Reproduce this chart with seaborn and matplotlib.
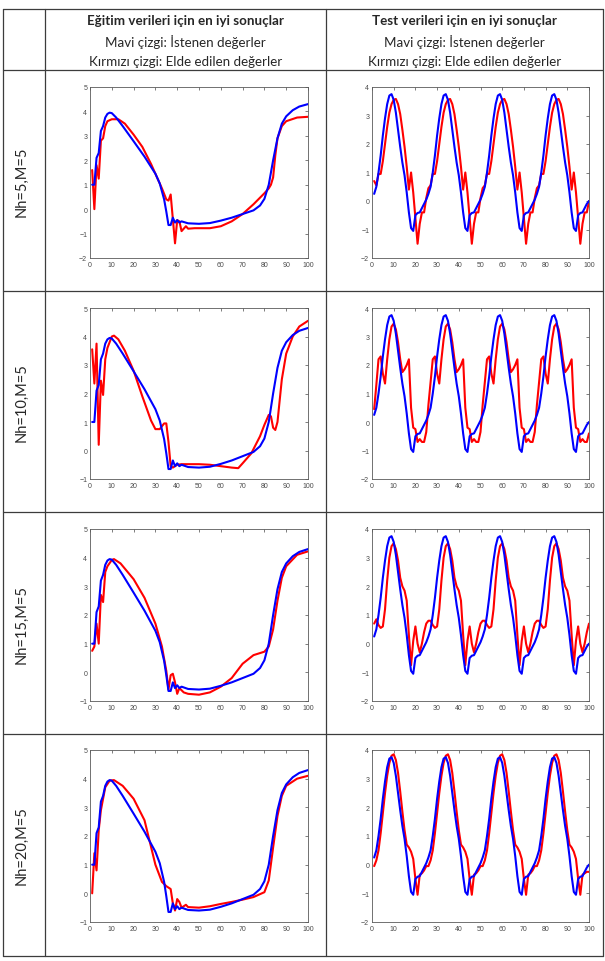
import matplotlib
matplotlib.use("Agg")
import matplotlib.pyplot as plt
from matplotlib.lines import Line2D
import numpy as np
import seaborn as sns

W, H = 605, 962

# ---- training data (left column), read at knots ----
train_blue_x = [1, 2, 3, 4, 5, 6, 7, 8, 9, 10, 12, 15, 20, 25, 30, 32, 34, 35, 36, 37,
                38, 39, 40, 41, 42, 45, 50, 55, 60, 65, 70, 75, 78, 80, 82, 84, 86, 88,
                90, 93, 96, 100]
train_blue = [1.0, 1.0, 2.1, 2.3, 3.2, 3.4, 3.75, 3.9, 3.95, 3.93, 3.75, 3.4, 2.78, 2.15,
              1.45, 1.05, 0.4, -0.1, -0.65, -0.65, -0.35, -0.55, -0.45, -0.55, -0.5,
              -0.58, -0.6, -0.57, -0.47, -0.35, -0.2, -0.05, 0.15, 0.42, 1.0, 2.0, 2.9,
              3.5, 3.8, 4.05, 4.2, 4.3]

train_red5_x = [1, 2, 3, 4, 5, 6, 7, 8, 10, 13, 16, 20, 24, 28, 31, 33, 35, 36, 37, 38,
                39, 40, 41, 42, 44, 45, 48, 55, 60, 65, 70, 75, 80, 82, 83, 84, 85, 86,
                88, 90, 95, 100]
train_red5 = [1.6, 0.0, 1.8, 1.25, 2.8, 2.9, 3.4, 3.6, 3.68, 3.68, 3.5, 3.05, 2.55, 1.85,
              1.25, 0.85, 0.4, 0.35, 0.6, -0.4, -1.4, -0.45, -0.5, -0.9, -0.7, -0.8,
              -0.78, -0.78, -0.7, -0.5, -0.2, 0.2, 0.65, 0.85, 1.0, 1.3, 2.2, 2.9, 3.4,
              3.6, 3.75, 3.78]

train_red10_x = [1, 2, 3, 4, 5, 6, 7, 8, 10, 11, 13, 16, 20, 24, 28, 30, 32, 34, 35, 36,
                 37, 38, 40, 42, 50, 55, 60, 65, 68, 70, 74, 78, 80, 82, 83, 84, 85, 86,
                 88, 90, 93, 96, 100]
train_red10 = [3.55, 2.35, 3.75, 0.2, 2.45, 1.95, 3.2, 3.6, 4.0, 4.03, 3.9, 3.5, 2.8, 1.9,
               1.05, 0.75, 0.75, 0.95, 0.95, 0.3, -0.55, -0.6, -0.5, -0.48, -0.48, -0.5,
               -0.55, -0.6, -0.62, -0.45, -0.1, 0.5, 0.9, 1.25, 1.2, 0.8, 0.72, 1.0, 2.5,
               3.4, 4.0, 4.35, 4.55]

train_red15_x = [1, 2, 3, 4, 5, 6, 7, 8, 10, 11, 14, 20, 25, 30, 33, 35, 36, 37, 38, 39,
                 40, 41, 43, 45, 50, 55, 60, 65, 70, 75, 80, 82, 84, 86, 88, 90, 95, 100]
train_red15 = [0.75, 0.9, 1.7, 1.0, 2.7, 2.45, 3.5, 3.7, 3.92, 3.95, 3.8, 3.25, 2.6, 1.7,
               0.9, 0.05, -0.6, -0.1, -0.05, -0.35, -0.75, -0.55, -0.7, -0.75, -0.78,
               -0.7, -0.5, -0.2, 0.3, 0.6, 0.72, 0.9, 1.5, 2.5, 3.3, 3.7, 4.1, 4.22]

train_red20_x = [1, 2, 3, 4, 5, 6, 7, 9, 11, 15, 20, 25, 30, 33, 35, 37, 38, 39, 40, 41,
                 42, 44, 45, 50, 55, 60, 65, 70, 75, 80, 82, 84, 86, 88, 90, 95, 100]
train_red20 = [0.0, 1.4, 0.8, 2.2, 2.9, 3.3, 3.7, 3.93, 3.95, 3.75, 3.3, 2.55, 1.0, 0.4,
               0.25, 0.15, -0.35, -0.6, -0.2, -0.3, -0.5, -0.4, -0.48, -0.5, -0.45,
               -0.37, -0.3, -0.22, -0.13, 0.04, 0.45, 1.6, 2.7, 3.4, 3.75, 4.0, 4.1]

# ---- test data (right column), one value per step 1..100 ----
test_x = list(range(1, 101))
test_blue = [0.25, 0.5, 1.0, 1.6, 2.3, 2.9, 3.4, 3.7, 3.75, 3.55, 3.1, 2.5, 1.9, 1.35, 0.9, 0.3, -0.4, -0.95, -1.05, -0.5, -0.42, -0.4, -0.25, -0.1, 0.05,
             0.25, 0.5, 1.0, 1.6, 2.3, 2.9, 3.4, 3.7, 3.75, 3.55, 3.1, 2.5, 1.9, 1.35, 0.9, 0.3, -0.4, -0.95, -1.05, -0.5, -0.42, -0.4, -0.25, -0.1, 0.05,
             0.25, 0.5, 1.0, 1.6, 2.3, 2.9, 3.4, 3.7, 3.75, 3.55, 3.1, 2.5, 1.9, 1.35, 0.9, 0.3, -0.4, -0.95, -1.05, -0.5, -0.42, -0.4, -0.25, -0.1, 0.05,
             0.25, 0.5, 1.0, 1.6, 2.3, 2.9, 3.4, 3.7, 3.75, 3.55, 3.1, 2.5, 1.9, 1.35, 0.9, 0.3, -0.4, -0.95, -1.05, -0.5, -0.42, -0.4, -0.25, -0.1, 0.0]
test_red5 = [0.7, 0.55, 0.95, 0.95, 1.4, 2.0, 2.6, 3.1, 3.4, 3.55, 3.58, 3.4, 3.05, 2.5, 1.9, 1.2, 0.4, 1.0, 0.3, -0.6, -1.5, -0.8, -0.4, -0.4, 0.1,
             0.45, 0.55, 0.95, 0.95, 1.4, 2.0, 2.6, 3.1, 3.4, 3.55, 3.58, 3.4, 3.05, 2.5, 1.9, 1.2, 0.4, 1.0, 0.3, -0.6, -1.5, -0.8, -0.4, -0.4, 0.1,
             0.45, 0.55, 0.95, 0.95, 1.4, 2.0, 2.6, 3.1, 3.4, 3.55, 3.58, 3.4, 3.05, 2.5, 1.9, 1.2, 0.4, 1.0, 0.3, -0.6, -1.5, -0.8, -0.4, -0.4, 0.1,
             0.45, 0.55, 0.95, 0.95, 1.4, 2.0, 2.6, 3.1, 3.4, 3.55, 3.58, 3.4, 3.05, 2.5, 1.9, 1.2, 0.4, 1.0, 0.3, -0.6, -1.5, -0.8, -0.4, -0.4, 0.0]
test_red10 = [0.45, 1.3, 2.2, 2.3, 1.7, 1.35, 2.2, 2.9, 3.35, 3.45, 3.25, 2.8, 2.2, 1.75, 1.85, 2.0, 2.2, 0.5, -0.2, -0.25, -0.7, -0.6, -0.7, -0.7, -0.35,
              0.6, 1.4, 2.2, 2.3, 1.7, 1.35, 2.2, 2.9, 3.35, 3.45, 3.25, 2.8, 2.2, 1.75, 1.85, 2.0, 2.2, 0.5, -0.2, -0.25, -0.7, -0.6, -0.7, -0.7, -0.35,
              0.6, 1.4, 2.2, 2.3, 1.7, 1.35, 2.2, 2.9, 3.35, 3.45, 3.25, 2.8, 2.2, 1.75, 1.85, 2.0, 2.2, 0.5, -0.2, -0.25, -0.7, -0.6, -0.7, -0.7, -0.35,
              0.6, 1.4, 2.2, 2.3, 1.7, 1.35, 2.2, 2.9, 3.35, 3.45, 3.25, 2.8, 2.2, 1.75, 1.85, 2.0, 2.2, 0.5, -0.2, -0.25, -0.7, -0.6, -0.7, -0.7, -0.4]
test_red15 = [0.7, 0.85, 0.65, 0.55, 0.6, 1.2, 2.2, 3.0, 3.4, 3.5, 3.3, 2.9, 2.3, 2.0, 1.85, 1.5, 0.3, -0.75, 0.1, 0.6, 0.0, -0.3, 0.0, 0.4, 0.7,
              0.8, 0.8, 0.65, 0.55, 0.6, 1.2, 2.2, 3.0, 3.4, 3.5, 3.3, 2.9, 2.3, 2.0, 1.85, 1.5, 0.3, -0.75, 0.1, 0.6, 0.0, -0.3, 0.0, 0.4, 0.7,
              0.8, 0.8, 0.65, 0.55, 0.6, 1.2, 2.2, 3.0, 3.4, 3.5, 3.3, 2.9, 2.3, 2.0, 1.85, 1.5, 0.3, -0.75, 0.1, 0.6, 0.0, -0.3, 0.0, 0.4, 0.7,
              0.8, 0.8, 0.65, 0.55, 0.6, 1.2, 2.2, 3.0, 3.4, 3.5, 3.3, 2.9, 2.3, 2.0, 1.85, 1.5, 0.3, -0.75, 0.1, 0.6, 0.0, -0.3, 0.0, 0.4, 0.7]
test_red20 = [-0.05, 0.15, 0.5, 1.1, 1.8, 2.5, 3.1, 3.55, 3.8, 3.85, 3.65, 3.2, 2.55, 1.85, 1.2, 0.7, 0.6, 0.45, 0.2, -0.5, -1.05, -0.35, -0.3, -0.2, -0.05,
              -0.05, 0.15, 0.5, 1.1, 1.8, 2.5, 3.1, 3.55, 3.8, 3.85, 3.65, 3.2, 2.55, 1.85, 1.2, 0.7, 0.6, 0.45, 0.2, -0.5, -1.05, -0.35, -0.3, -0.2, -0.05,
              -0.05, 0.15, 0.5, 1.1, 1.8, 2.5, 3.1, 3.55, 3.8, 3.85, 3.65, 3.2, 2.55, 1.85, 1.2, 0.7, 0.6, 0.45, 0.2, -0.5, -1.05, -0.35, -0.3, -0.2, -0.05,
              -0.05, 0.15, 0.5, 1.1, 1.8, 2.5, 3.1, 3.55, 3.8, 3.85, 3.65, 3.2, 2.55, 1.85, 1.2, 0.7, 0.6, 0.45, 0.2, -0.5, -1.05, -0.35, -0.3, -0.25, -0.25]

row_labels = ["Nh=5,M=5", "Nh=10,M=5", "Nh=15,M=5", "Nh=20,M=5"]
head_left = ["Eğitim verileri için en iyi sonuçlar", "Mavi çizgi: İstenen değerler",
             "Kırmızı çizgi: Elde edilen değerler"]
head_right = ["Test verileri için en iyi sonuçlar", "Mavi çizgi: İstenen değerler",
              "Kırmızı çizgi: Elde edilen değerler"]
train_ylims = [(-2, 5), (-1, 5), (-1, 5), (-1, 5)]
test_ylim = (-2, 4)

sns.set_style("white")
plt.rcParams['font.family'] = ['Lato', 'DejaVu Sans']

fig = plt.figure(figsize=(W / 100, H / 100), dpi=100)


def px_axes(x0, y0, x1, y1):
    return fig.add_axes([x0 / W, 1 - y1 / H, (x1 - x0) / W, (y1 - y0) / H])


def hline(y, x0=3, x1=603):
    fig.add_artist(Line2D([x0 / W, x1 / W], [1 - y / H, 1 - y / H],
                          transform=fig.transFigure, color='#3c3c3c', lw=0.9))


def vline(x, y0=10, y1=957):
    fig.add_artist(Line2D([x / W, x / W], [1 - y0 / H, 1 - y1 / H],
                          transform=fig.transFigure, color='#3c3c3c', lw=0.9))


def style_axes(ax, ylim):
    ax.set_xlim(0, 100)
    ax.set_ylim(*ylim)
    ax.set_xticks(np.arange(0, 101, 10))
    ax.set_yticks(np.arange(ylim[0], ylim[1] + 1, 1))
    ax.set_xlabel('')
    ax.set_ylabel('')
    ax.tick_params(direction='in', top=True, right=True, length=2.5, width=0.5,
                   labelsize=5, colors='#4a4a4a', pad=2)
    for lab in ax.get_xticklabels() + ax.get_yticklabels():
        lab.set_family('Liberation Sans')
    for s in ax.spines.values():
        s.set_color('#5a5a5a')
        s.set_linewidth(0.6)


# table grid
for y in [10, 71, 292, 513, 735, 957]:
    hline(y)
for x in [3, 45, 326, 603]:
    vline(x)

# header text
for i, (tl, tr) in enumerate(zip(head_left, head_right)):
    yy = 1 - [21, 42, 62][i] / H
    w = 'bold' if i == 0 else 'normal'
    fig.text(185.5 / W, yy, tl, ha='center', va='center', fontsize=9.6, fontweight=w)
    fig.text(464.5 / W, yy, tr, ha='center', va='center', fontsize=9.6, fontweight=w)

train_x_list = [train_red5_x, train_red10_x, train_red15_x, train_red20_x]
train_red_list = [train_red5, train_red10, train_red15, train_red20]
test_red_list = [test_red5, test_red10, test_red15, test_red20]
rows_px = [(88, 259), (309, 480), (530, 702), (751, 923)]
row_bounds = [(71, 292), (292, 513), (513, 735), (735, 957)]

for i in range(4):
    y0, y1 = rows_px[i]
    fig.text(22 / W, 1 - (row_bounds[i][0] + row_bounds[i][1]) / 2 / H, row_labels[i],
             rotation=90, ha='center', va='center', fontsize=10.5)

    ax = px_axes(90, y0, 308, y1)
    sns.lineplot(x=train_x_list[i], y=train_red_list[i], color=(1, 0, 0), lw=1.5, ax=ax)
    sns.lineplot(x=train_blue_x, y=train_blue, color=(0, 0, 1), lw=1.5, ax=ax)
    style_axes(ax, train_ylims[i])

    ax = px_axes(372, y0, 589, y1)
    sns.lineplot(x=test_x, y=test_red_list[i], color=(1, 0, 0), lw=1.5, ax=ax)
    sns.lineplot(x=test_x, y=test_blue, color=(0, 0, 1), lw=1.5, ax=ax)
    style_axes(ax, test_ylim)

fig.savefig("out.png", dpi=100)
